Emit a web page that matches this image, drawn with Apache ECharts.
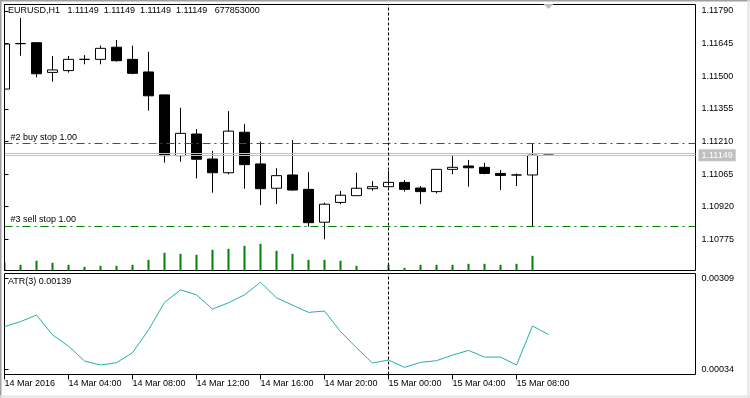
<!DOCTYPE html>
<html>
<head>
<meta charset="utf-8">
<script src="https://cdn.jsdelivr.net/npm/echarts@6/dist/echarts.min.js"></script>
<style>
html, body { margin: 0; padding: 0; background: #fff; }
#main { width: 750px; height: 398px; }
</style>
</head>
<body>
<div id="main"></div>
<script>
// EURUSD H1 bars, index 0 = 14 Mar 2016 00:00
var openP  = [1.11443, 1.11645, 1.11649, 1.11517, 1.11525, 1.11575, 1.11575, 1.11629, 1.11575, 1.11519,
              1.11417, 1.11147, 1.11243, 1.11132, 1.11071, 1.11251, 1.11110, 1.11002, 1.11061, 1.10997,
              1.10851, 1.10939, 1.10969, 1.11000, 1.11009, 1.11028, 1.11003, 1.10987, 1.11086, 1.11101,
              1.11095, 1.11068, 1.11061, 1.11061, 1.11149];
var highP  = [1.11650, 1.11759, 1.11649, 1.11590, 1.11590, 1.11594, 1.11636, 1.11661, 1.11636, 1.11609,
              1.11417, 1.11360, 1.11265, 1.11168, 1.11345, 1.11288, 1.11209, 1.11091, 1.11216, 1.11073,
              1.10938, 1.10990, 1.11071, 1.11034, 1.11079, 1.11038, 1.11012, 1.11086, 1.11150, 1.11128,
              1.11115, 1.11083, 1.11068, 1.11200, 1.11149];
var lowP   = [1.11435, 1.11591, 1.11495, 1.11476, 1.11516, 1.11553, 1.11553, 1.11565, 1.11509, 1.11347,
              1.11116, 1.11120, 1.11046, 1.10982, 1.11064, 1.11000, 1.10927, 1.10932, 1.10991, 1.10831,
              1.10775, 1.10931, 1.10969, 1.10991, 1.11003, 1.10987, 1.10931, 1.10979, 1.11064, 1.11009,
              1.11064, 1.10994, 1.11012, 1.10833, 1.11149];
var closeP = [1.11643, 1.11645, 1.11511, 1.11528, 1.11575, 1.11575, 1.11624, 1.11569, 1.11513, 1.11413,
              1.11147, 1.11246, 1.11131, 1.11071, 1.11256, 1.11107, 1.11000, 1.11058, 1.10994, 1.10849,
              1.10931, 1.10971, 1.11002, 1.11009, 1.11028, 1.10997, 1.10987, 1.11086, 1.11095, 1.11093,
              1.11068, 1.11059, 1.11061, 1.11149, 1.11149];
var volumes = [1200, 850, 1450, 1150, 850, 550, 700, 700, 850, 1600,
               2650, 2500, 2350, 3100, 3250, 3700, 4000, 2950, 2500, 1600,
               1600, 1450, 700, 60, 850, 400, 850, 850, 850, 1000,
               1000, 850, 1000, 2200, 0];
var atr3 = [0.00163, 0.00178, 0.00198, 0.00138, 0.00104, 0.00059, 0.00047, 0.00054, 0.00084, 0.00153,
            0.00236, 0.00274, 0.00259, 0.00216, 0.00235, 0.00259, 0.00297, 0.00250, 0.00228, 0.00206,
            0.00210, 0.00148, 0.00099, 0.00053, 0.00062, 0.00040, 0.00055, 0.00060, 0.00077, 0.00091,
            0.00071, 0.00071, 0.00047, 0.00165, 0.00139];

var timeTicks  = [0, 4, 8, 12, 16, 20, 24, 28, 32];
var timeLabels = ['14 Mar 2016', '14 Mar 04:00', '14 Mar 08:00', '14 Mar 12:00', '14 Mar 16:00',
                  '14 Mar 20:00', '15 Mar 00:00', '15 Mar 04:00', '15 Mar 08:00'];
var priceTicks = [1.11790, 1.11645, 1.11500, 1.11355, 1.11210, 1.11065, 1.10920, 1.10775];
var atrTicks   = [0.00309, 0.00034];

var bid = 1.11149, ask = 1.11158;
var buyStop = 1.11200, sellStop = 1.10833;
var separatorBar = 24;

var font = 'Liberation Sans';
var candles = openP.map(function (o, i) { return [i, o, closeP[i], lowP[i], highP[i]]; });
var volData = volumes.map(function (v, i) { return [i, v]; });
var atrData = atr3.map(function (v, i) { return [i, v]; });

var xMax = 691 / 16;
function xAx(idx, show) {
    return {
        type: 'value', gridIndex: idx, min: 0, max: xMax, show: show,
        splitLine: { show: false },
        axisLine: { show: false },
        axisTick: { show: show, customValues: timeTicks, length: 5, lineStyle: { color: '#000' } },
        axisLabel: {
            show: show, customValues: timeTicks, align: 'left', margin: 5,
            color: '#000', fontSize: 9, fontFamily: font,
            formatter: function (v) { return timeLabels[timeTicks.indexOf(Math.round(v))] || ''; }
        }
    };
}

function sepLine() {
    return {
        silent: true, symbol: ['none', 'none'], animation: false,
        lineStyle: { color: '#000', type: [3, 2], width: 1 },
        label: { show: false },
        data: [{ xAxis: separatorBar }]
    };
}

// one helper series per order line, so each keeps its own colour
function stopSeries(value, name) {
    return {
        type: 'line', xAxisIndex: 0, yAxisIndex: 0, data: [], silent: true,
        color: '#008000',
        markLine: {
            silent: true, symbol: ['none', 'none'], animation: false, precision: 5,
            lineStyle: { color: '#008000', type: [8, 4, 2, 4], width: 1 },
            label: { show: true, position: 'insideStartTop', distance: [6, 2], formatter: '{b}',
                     color: '#000', fontSize: 9, fontFamily: font },
            data: [{ yAxis: value, name: name }]
        }
    };
}

var chart = echarts.init(document.getElementById('main'));
chart.setOption({
    animation: false,
    backgroundColor: '#fff',
    title: [
        { text: 'EURUSD,H1   1.11149  1.11149  1.11149  1.11149   677853000', left: 8, top: 6, padding: 0,
          textStyle: { fontSize: 9, fontWeight: 'normal', color: '#000', fontFamily: font } },
        { text: 'ATR(3) 0.00139', left: 8, top: 277, padding: 0,
          textStyle: { fontSize: 9, fontWeight: 'normal', color: '#000', fontFamily: font } }
    ],
    graphic: [
        // hide the part of the first bar that runs past the left frame
        { type: 'rect', z: 100, shape: { x: 0, y: 3, width: 4, height: 270 }, style: { fill: '#fff' } },
        { type: 'line', z: 101, shape: { x1: 4.5, y1: 4, x2: 4.5, y2: 271 }, style: { stroke: '#000', lineWidth: 1 } },
        { type: 'line', z: 101, shape: { x1: 0, y1: 0.5, x2: 750, y2: 0.5 }, style: { stroke: '#a0a0a0', lineWidth: 2 } },
        { type: 'line', z: 101, shape: { x1: 0.5, y1: 0, x2: 0.5, y2: 398 }, style: { stroke: '#a0a0a0', lineWidth: 2 } },
        { type: 'line', z: 101, shape: { x1: 748.5, y1: 0, x2: 748.5, y2: 398 }, style: { stroke: '#e3e3e3', lineWidth: 2 } },
        { type: 'line', z: 101, shape: { x1: 0, y1: 396.5, x2: 750, y2: 396.5 }, style: { stroke: '#e3e3e3', lineWidth: 2 } }
    ],
    grid: [
        { left: 4.5, top: 4.5, width: 691, height: 266, show: true, borderColor: '#000', borderWidth: 1, backgroundColor: '#fff' },
        { left: 4.5, top: 273.5, width: 691, height: 101, show: true, borderColor: '#000', borderWidth: 1, backgroundColor: '#fff' },
        { left: 4.5, top: 230.5, width: 691, height: 40, show: false }
    ],
    xAxis: [xAx(0, false), xAx(1, true), xAx(2, false)],
    yAxis: [
        {
            type: 'value', gridIndex: 0, position: 'right', min: 1.106363, max: 1.118189, scale: true,
            splitLine: { show: false }, axisLine: { show: false },
            axisTick: { show: true, customValues: priceTicks, length: 4, lineStyle: { color: '#000' } },
            axisLabel: { customValues: priceTicks, margin: 6, color: '#000', fontSize: 9, fontFamily: font,
                         formatter: function (v) { return v.toFixed(5); } }
        },
        {
            type: 'value', gridIndex: 1, position: 'right', min: 0.000183, max: 0.003235,
            splitLine: { show: false }, axisLine: { show: false },
            axisTick: { show: true, customValues: atrTicks, length: 4, lineStyle: { color: '#000' } },
            axisLabel: { customValues: atrTicks, margin: 6, color: '#000', fontSize: 9, fontFamily: font,
                         formatter: function (v) { return v.toFixed(5); } }
        },
        { type: 'value', gridIndex: 2, min: 0, max: 6000, show: false }
    ],
    series: [
        {
            type: 'bar', xAxisIndex: 2, yAxisIndex: 2, data: volData, barWidth: 2,
            itemStyle: { color: '#008000' }, silent: true
        },
        {
            // bid / ask lines
            type: 'line', xAxisIndex: 0, yAxisIndex: 0, data: [], silent: true, color: '#c0c0c0',
            markLine: {
                silent: true, symbol: ['none', 'none'], animation: false, precision: 5,
                lineStyle: { color: '#c0c0c0', type: 'solid', width: 1 },
                data: [
                    { yAxis: ask, label: { show: false } },
                    { yAxis: bid,
                      label: { show: true, position: 'end', distance: 3, formatter: bid.toFixed(5),
                               backgroundColor: '#c0c0c0', color: '#fff', padding: [2, 3, 1, 3],
                               fontSize: 9, fontFamily: font } }
                ]
            }
        },
        stopSeries(buyStop, '#2 buy stop 1.00'),
        stopSeries(sellStop, '#3 sell stop 1.00'),
        {
            type: 'candlestick', xAxisIndex: 0, yAxisIndex: 0, data: candles, barWidth: 11, clip: true,
            itemStyle: { color: '#fff', color0: '#000', borderColor: '#000', borderColor0: '#000', borderWidth: 1 },
            markLine: sepLine(),
            markPoint: {
                silent: true, animation: false,
                symbol: 'triangle', symbolRotate: 180, symbolSize: [10, 5],
                itemStyle: { color: '#c0c0c0' }, label: { show: false },
                data: [{ coord: [34, 1.1181] }]
            }
        },
        {
            type: 'line', xAxisIndex: 1, yAxisIndex: 1, data: atrData, showSymbol: false, symbol: 'none',
            lineStyle: { color: '#20b2aa', width: 1 }, itemStyle: { color: '#20b2aa' },
            markLine: sepLine()
        }
    ]
});
</script>
</body>
</html>
